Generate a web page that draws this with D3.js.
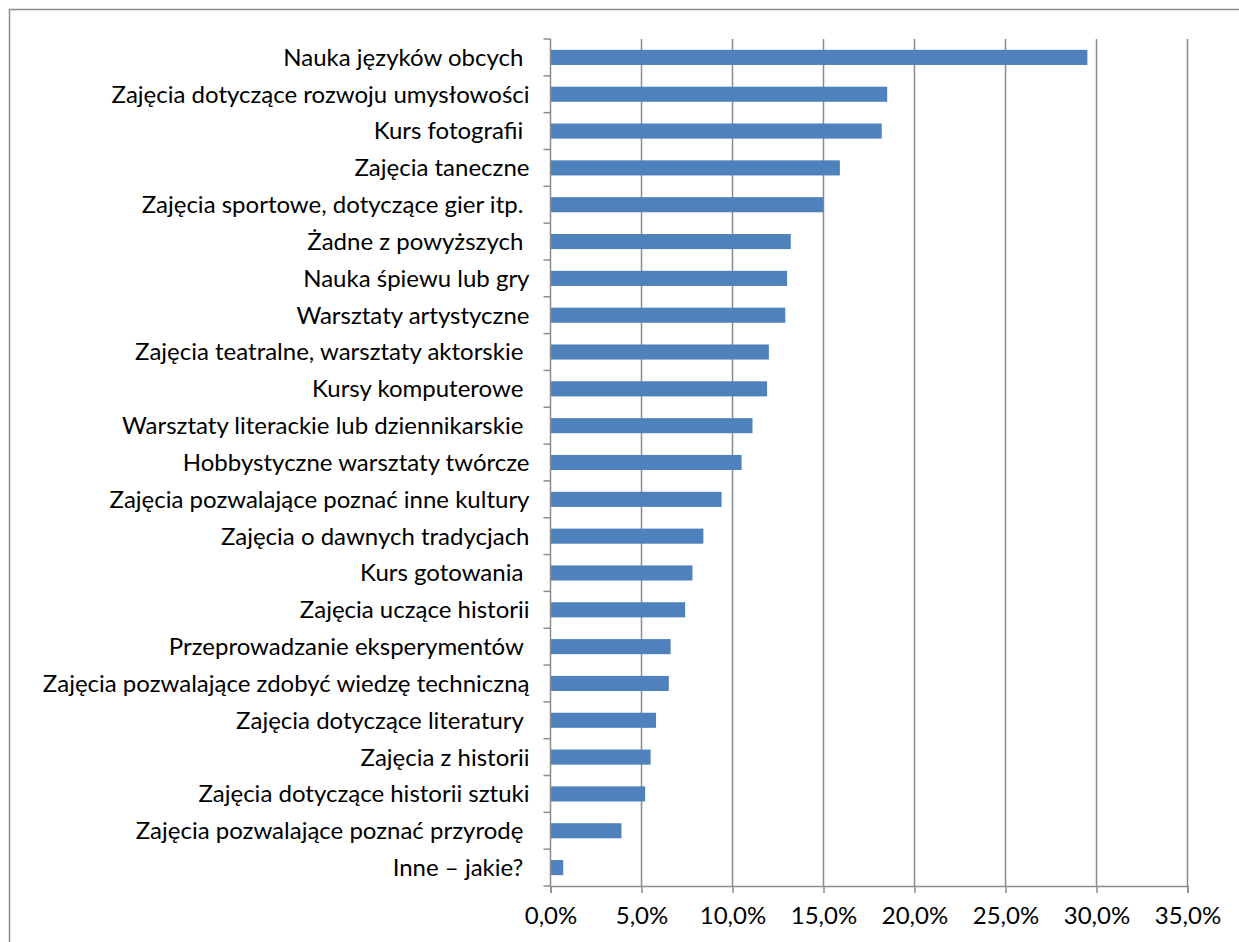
<!DOCTYPE html>
<html>
<head>
<meta charset="utf-8">
<script src="https://cdn.jsdelivr.net/npm/d3@7"></script>
<style>
	body { margin: 0; background: #fff; }
	svg text { font-family: Lato, "Open Sans", sans-serif; fill: #000; }
</style>
</head>
<body>
<div id="chart"></div>
<script>
// categories top to bottom (trailing spaces are part of the original labels)
let categories = [
	"Nauka języków obcych ",
	"Zajęcia dotyczące rozwoju umysłowości",
	"Kurs fotografii ",
	"Zajęcia taneczne",
	"Zajęcia sportowe, dotyczące gier itp. ",
	"Żadne z powyższych ",
	"Nauka śpiewu lub gry",
	"Warsztaty artystyczne",
	"Zajęcia teatralne, warsztaty aktorskie ",
	"Kursy komputerowe ",
	"Warsztaty literackie lub dziennikarskie ",
	"Hobbystyczne warsztaty twórcze",
	"Zajęcia pozwalające poznać inne kultury",
	"Zajęcia o dawnych tradycjach",
	"Kurs gotowania ",
	"Zajęcia uczące historii",
	"Przeprowadzanie eksperymentów ",
	"Zajęcia pozwalające zdobyć wiedzę techniczną",
	"Zajęcia dotyczące literatury ",
	"Zajęcia z historii",
	"Zajęcia dotyczące historii sztuki",
	"Zajęcia pozwalające poznać przyrodę ",
	"Inne – jakie? "
]

// percent values
let values = [29.5, 18.5, 18.2, 15.9, 15.0, 13.2, 13.0, 12.9, 12.0, 11.9, 11.1, 10.5, 9.4, 8.4, 7.8, 7.4, 6.6, 6.5, 5.8, 5.5, 5.2, 3.9, 0.7]

let xTicks = [0, 5, 10, 15, 20, 25, 30, 35]

let data = categories.map((c, i) => ({ 'name': c, 'value': values[i] }))

let width = 1239
let height = 942

let plotLeft = 550.5
let plotRight = 1187.5
let plotTop = 39
let plotBottom = 886

let plLocale = d3.formatLocale({ decimal: ",", thousands: " ", grouping: [3], currency: ["", " zł"] })
let pct = plLocale.format(".1f")

let xScale = d3.scaleLinear()
	.domain([0, 35])
	.range([plotLeft, plotRight])

let yScale = d3.scaleBand()
	.domain(categories)
	.range([plotTop, plotBottom])
	.paddingInner(0.59)
	.paddingOuter(0.295)

const svg = d3.select('#chart')
	.append('svg')
	.attr('width', width)
	.attr('height', height)

// outer frame
svg.append('rect')
	.attr('x', 9.5)
	.attr('y', 9.5)
	.attr('width', width + 20)
	.attr('height', height + 20)
	.attr('fill', 'none')
	.attr('stroke', '#8c8c8c')
	.attr('stroke-width', 1.5)

// vertical gridlines
svg.selectAll('.grid')
	.data(xTicks.slice(1))
	.enter()
	.append('line')
	.attr('class', 'grid')
	.attr('x1', d => xScale(d))
	.attr('x2', d => xScale(d))
	.attr('y1', plotTop)
	.attr('y2', plotBottom)
	.attr('stroke', '#8c8c8c')
	.attr('stroke-width', 1.5)

// bars
svg.selectAll('.bar')
	.data(data)
	.enter()
	.append('rect')
	.attr('class', 'bar')
	.attr('x', xScale(0))
	.attr('y', d => yScale(d.name))
	.attr('width', d => xScale(d.value) - xScale(0))
	.attr('height', yScale.bandwidth())
	.attr('fill', '#4f81bd')

// x axis
xAxis = g => g.attr('transform', `translate(0,${plotBottom})`)
	.call(d3.axisBottom(xScale).tickValues(xTicks).tickSize(7).tickPadding(14).tickFormat(d => pct(d) + '%'))

let xG = svg.append('g').call(xAxis)
xG.selectAll('path').attr('stroke', '#8c8c8c').attr('stroke-width', 1.5)
xG.selectAll('line').attr('stroke', '#8c8c8c').attr('stroke-width', 1.5)
xG.selectAll('text').attr('font-size', 24).attr('fill', '#000')

// y axis: line with ticks on the band boundaries
svg.append('line')
	.attr('x1', plotLeft)
	.attr('x2', plotLeft)
	.attr('y1', plotTop)
	.attr('y2', plotBottom)
	.attr('stroke', '#8c8c8c')
	.attr('stroke-width', 1.5)

let step = yScale.step()
let boundaries = d3.range(categories.length + 1).map(i => plotTop + i * step)

svg.selectAll('.ytick')
	.data(boundaries)
	.enter()
	.append('line')
	.attr('class', 'ytick')
	.attr('x1', plotLeft - 7)
	.attr('x2', plotLeft)
	.attr('y1', d => d)
	.attr('y2', d => d)
	.attr('stroke', '#8c8c8c')
	.attr('stroke-width', 1.5)

svg.selectAll('.ylabel')
	.data(data)
	.enter()
	.append('text')
	.attr('class', 'ylabel')
	.attr('x', plotLeft - 21)
	.attr('y', d => yScale(d.name) + yScale.bandwidth() / 2)
	.attr('dy', '0.35em')
	.attr('text-anchor', 'end')
	.attr('font-size', 24)
	.style('white-space', 'pre')
	.text(d => d.name)
</script>
</body>
</html>
